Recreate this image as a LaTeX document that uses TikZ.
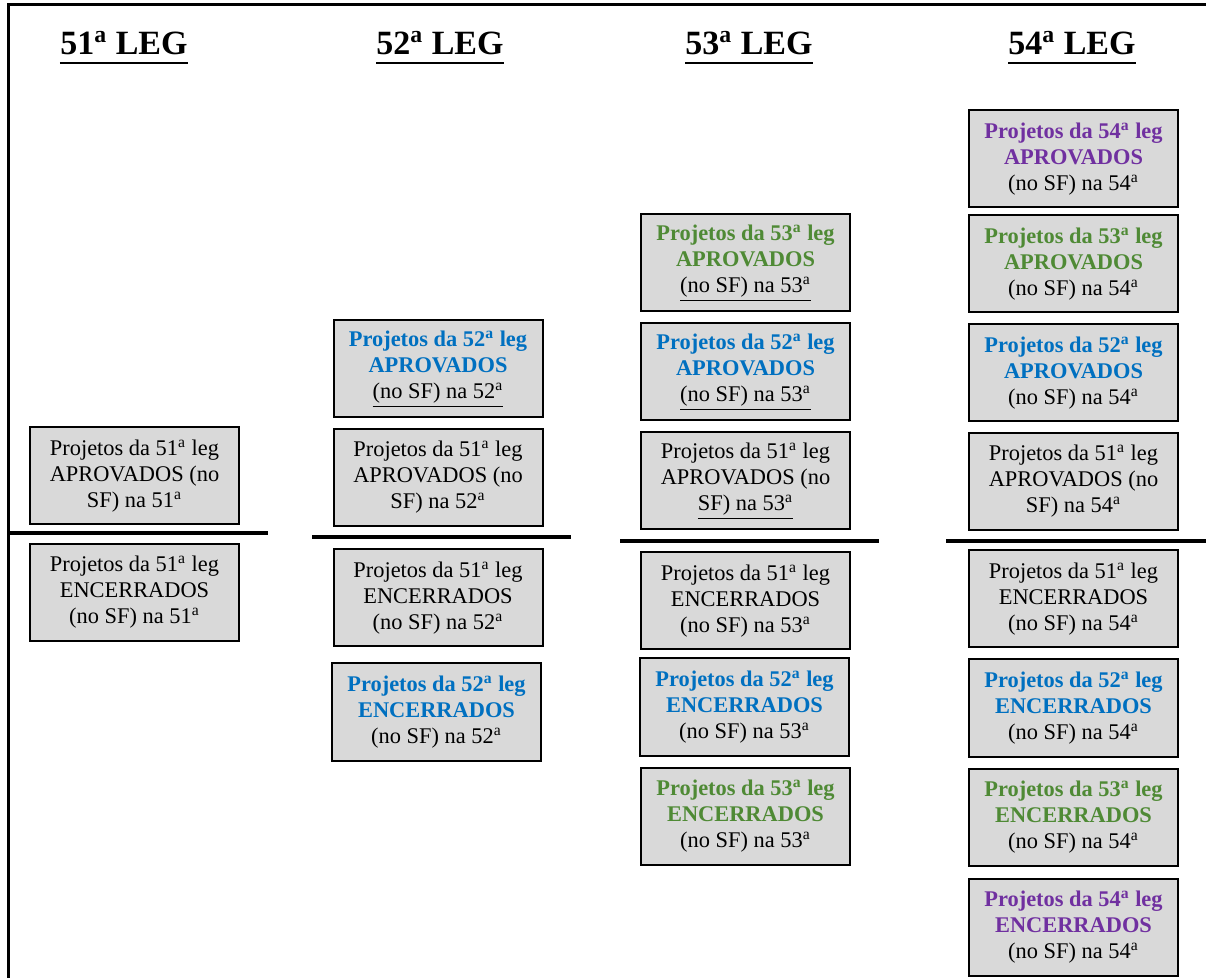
\documentclass[tikz,border=0pt]{standalone}
\usepackage{fontspec}
\setmainfont{Liberation Serif}
\definecolor{boxgray}{HTML}{D9D9D9}
\definecolor{leg52}{HTML}{0070C0}
\definecolor{leg53}{HTML}{4F8A35}
\definecolor{leg54}{HTML}{7030A0}
\newcommand{\oa}{\textsuperscript{a}}
\newcommand{\hl}[2]{\textcolor{#1}{\textbf{#2}}}
\tikzset{
  box/.style={draw, line width=1pt, fill=boxgray, minimum width=104.5pt,
    minimum height=48.5pt, inner sep=0pt, align=center,
    font=\fontsize{11.2}{13}\selectfont},
  legtitle/.style={anchor=base, inner sep=0pt, font=\fontsize{17}{20}\selectfont\bfseries},
  sep/.style={line width=2pt}
}

\begin{document}
\begin{tikzpicture}[x=0.5pt,y=-0.5pt]
\useasboundingbox (0,0) rectangle (1206,978);
\draw[line width=1.5pt] (8,978) -- (8,5) -- (1206,5);

\foreach \n/\x in {51/124,52/440,53/749,54/1072}{
  \node[legtitle] (h\n) at (\x,55) {\n\oa{} LEG};
  \draw[line width=1.4pt] ([yshift=-4pt]h\n.base west) -- ([yshift=-4pt]h\n.base east);
}

\node[box] (a51-51) at (134.5,476) {Projetos da 51\oa{} leg\\APROVADOS (no\\SF) na 51\oa};
\node[box] (e51-51) at (134.5,592.5) {Projetos da 51\oa{} leg\\ENCERRADOS\\(no SF) na 51\oa};

\node[box] (a52-52) at (438,369) {\hl{leg52}{Projetos da 52\oa{} leg}\\\hl{leg52}{APROVADOS}\\\underline{(no SF) na 52\oa}};
\node[box] (a51-52) at (438,477.5) {Projetos da 51\oa{} leg\\APROVADOS (no\\SF) na 52\oa};
\node[box] (e51-52) at (438,598) {Projetos da 51\oa{} leg\\ENCERRADOS\\(no SF) na 52\oa};
\node[box] (e52-52) at (436.5,712) {\hl{leg52}{Projetos da 52\oa{} leg}\\\hl{leg52}{ENCERRADOS}\\(no SF) na 52\oa};

\node[box] (a53-53) at (745.5,263) {\hl{leg53}{Projetos da 53\oa{} leg}\\\hl{leg53}{APROVADOS}\\\underline{(no SF) na 53\oa}};
\node[box] (a52-53) at (745.5,372) {\hl{leg52}{Projetos da 52\oa{} leg}\\\hl{leg52}{APROVADOS}\\\underline{(no SF) na 53\oa}};
\node[box] (a51-53) at (745.5,481) {Projetos da 51\oa{} leg\\APROVADOS (no\\\underline{SF) na 53\oa}};
\node[box] (e51-53) at (745.5,601) {Projetos da 51\oa{} leg\\ENCERRADOS\\(no SF) na 53\oa};
\node[box] (e52-53) at (744.5,707) {\hl{leg52}{Projetos da 52\oa{} leg}\\\hl{leg52}{ENCERRADOS}\\(no SF) na 53\oa};
\node[box] (e53-53) at (745.5,816) {\hl{leg53}{Projetos da 53\oa{} leg}\\\hl{leg53}{ENCERRADOS}\\(no SF) na 53\oa};

\node[box] (a54-54) at (1073.5,159) {\hl{leg54}{Projetos da 54\oa{} leg}\\\hl{leg54}{APROVADOS}\\(no SF) na 54\oa};
\node[box] (a53-54) at (1073.5,264) {\hl{leg53}{Projetos da 53\oa{} leg}\\\hl{leg53}{APROVADOS}\\(no SF) na 54\oa};
\node[box] (a52-54) at (1073.5,373) {\hl{leg52}{Projetos da 52\oa{} leg}\\\hl{leg52}{APROVADOS}\\(no SF) na 54\oa};
\node[box] (a51-54) at (1073.5,481.5) {Projetos da 51\oa{} leg\\APROVADOS (no\\SF) na 54\oa};
\node[box] (e51-54) at (1073.5,599) {Projetos da 51\oa{} leg\\ENCERRADOS\\(no SF) na 54\oa};
\node[box] (e52-54) at (1073.5,708) {\hl{leg52}{Projetos da 52\oa{} leg}\\\hl{leg52}{ENCERRADOS}\\(no SF) na 54\oa};
\node[box] (e53-54) at (1073.5,817) {\hl{leg53}{Projetos da 53\oa{} leg}\\\hl{leg53}{ENCERRADOS}\\(no SF) na 54\oa};
\node[box] (e54-54) at (1073.5,927) {\hl{leg54}{Projetos da 54\oa{} leg}\\\hl{leg54}{ENCERRADOS}\\(no SF) na 54\oa};

\draw[sep] (8,533) -- (268,533);
\draw[sep] (312,537) -- (571,537);
\draw[sep] (620,541) -- (879,541);
\draw[sep] (946,541) -- (1206,541);
\end{tikzpicture}
\end{document}
